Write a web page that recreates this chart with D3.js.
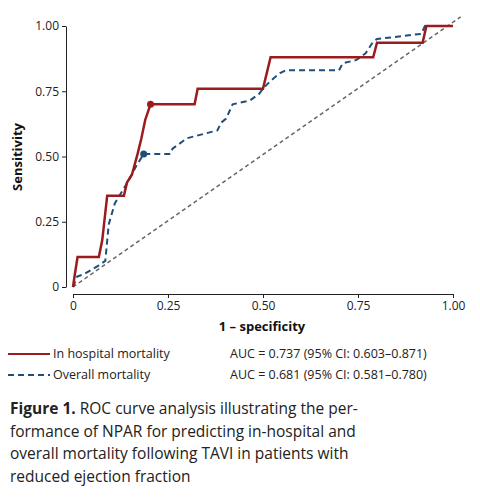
<!DOCTYPE html><html><head><meta charset="utf-8"><script src="https://cdn.jsdelivr.net/npm/d3@7"></script>
<style>body{margin:0;background:#fff;font-family:"Open Sans",sans-serif}</style></head><body><svg id="c" width="480" height="503"></svg>
<script>
const redX=[0,0.005,0.012,0.068,0.077,0.09,0.134,0.142,0.155,0.17,0.18,0.19,0.204,0.32,0.328,0.50,0.52,0.79,0.80,0.92,0.93,1.0];
const redY=[0,0.05,0.115,0.115,0.18,0.35,0.35,0.40,0.43,0.51,0.57,0.64,0.70,0.70,0.76,0.76,0.88,0.88,0.936,0.936,1.0,1.0];
const bluX=[0,0.011,0.03,0.068,0.085,0.094,0.11,0.147,0.165,0.186,0.256,0.262,0.30,0.38,0.39,0.403,0.42,0.466,0.49,0.50,0.52,0.545,0.56,0.70,0.71,0.746,0.77,0.79,0.80,0.917,0.926,1.0];
const bluY=[0,0.04,0.05,0.083,0.10,0.24,0.32,0.41,0.46,0.51,0.51,0.53,0.57,0.60,0.63,0.645,0.70,0.715,0.74,0.76,0.79,0.82,0.83,0.83,0.857,0.87,0.895,0.94,0.95,0.97,1.0,1.0];
const ticks=[0,0.25,0.5,0.75,1];
const tickLabels=["0","0.25","0.50","0.75","1.00"];
const svg=d3.select("#c");
const x=d3.scaleLinear().domain([0,1]).range([73,453]);
const y=d3.scaleLinear().domain([0,1]).range([287,26]);
const ga=svg.append("g").attr("transform","translate(0,294)").call(d3.axisBottom(x).tickValues(ticks).tickFormat((d,i)=>tickLabels[i]).tickSize(4).tickSizeOuter(0));
const gb=svg.append("g").attr("transform","translate(66,0)").call(d3.axisLeft(y).tickValues(ticks).tickFormat((d,i)=>tickLabels[i]).tickSize(4).tickSizeOuter(0));
[ga,gb].forEach(g=>{g.selectAll("text").attr("font-size",12).attr("fill","#222").attr("font-family","Open Sans");g.select(".domain").attr("stroke","#222");g.selectAll("line").attr("stroke","#222");});
svg.append("line").attr("x1",x(0)).attr("y1",y(0)).attr("x2",x(1.02)).attr("y2",y(1.035)).attr("stroke","#666").attr("stroke-width",1.5).attr("stroke-dasharray","4,3");
const step=(xs,ys)=>{const p=[];xs.forEach((v,i)=>p.push([x(v),y(ys[i])]));return d3.line()(p);};
svg.append("path").attr("d",step(bluX,bluY)).attr("fill","none").attr("stroke","#1f4e79").attr("stroke-width",2).attr("stroke-dasharray","6,4");
svg.append("path").attr("d",step(redX,redY)).attr("fill","none").attr("stroke","#9b1c1c").attr("stroke-width",2.5);
svg.append("circle").attr("cx",x(0.204)).attr("cy",y(0.70)).attr("r",3.5).attr("fill","#9b1c1c");
svg.append("circle").attr("cx",x(0.186)).attr("cy",y(0.51)).attr("r",3.5).attr("fill","#1f4e79");
svg.append("text").attr("x",262).attr("y",331).attr("text-anchor","middle").attr("font-weight","bold").attr("font-size",13).attr("fill","#111").text("1 – specificity");
svg.append("text").attr("transform","translate(22,157) rotate(-90)").attr("text-anchor","middle").attr("font-weight","bold").attr("font-size",13).attr("fill","#111").text("Sensitivity");
const leg=[["In hospital mortality","AUC = 0.737 (95% CI: 0.603–0.871)","#9b1c1c",null],["Overall mortality","AUC = 0.681 (95% CI: 0.581–0.780)","#1f4e79","6,4"]];
leg.forEach((l,i)=>{const yy=358+i*21;
svg.append("line").attr("x1",8).attr("x2",50).attr("y1",yy-4).attr("y2",yy-4).attr("stroke",l[2]).attr("stroke-width",2).attr("stroke-dasharray",l[3]);
svg.append("text").attr("x",53).attr("y",yy).attr("font-size",12.5).attr("fill","#222").text(l[0]);
svg.append("text").attr("x",230).attr("y",yy).attr("font-size",12.5).attr("fill","#222").text(l[1]);});
const cap=[["Figure 1.","ROC curve analysis illustrating the per-"],["","formance of NPAR for predicting in-hospital and"],["","overall mortality following TAVI in patients with"],["","reduced ejection fraction"]];
cap.forEach((c,i)=>{const t=svg.append("text").attr("x",10).attr("y",414+i*22.5).attr("font-size",15.5).attr("fill","#222");
if(c[0])t.append("tspan").attr("font-weight","bold").text(c[0]+" ");t.append("tspan").text(c[1]);});
</script></body></html>
